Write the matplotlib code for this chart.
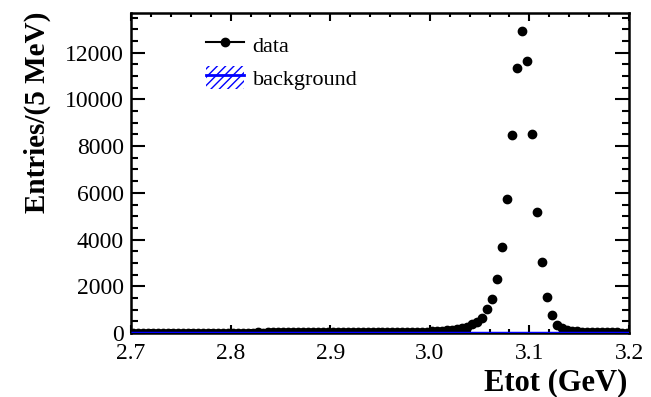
import numpy as np
import matplotlib
matplotlib.use("Agg")
import matplotlib.pyplot as plt
from matplotlib.lines import Line2D
from matplotlib.patches import Patch
from matplotlib.ticker import MultipleLocator

plt.rcParams["font.family"] = ["Liberation Serif", "DejaVu Serif"]
plt.rcParams["hatch.linewidth"] = 1.0

# 5 MeV bins, 2.7 - 3.2 GeV
bin_lo = 2.7
bin_hi = 3.2
n_bins = 100

data_counts = [
    12, 14, 11, 15, 13, 14, 12, 16, 14, 15,
    15, 17, 14, 18, 16, 17, 19, 17, 18, 20,
    18, 20, 19, 21, 20, 22, 21, 23, 22, 24,
    23, 25, 24, 26, 25, 27, 26, 28, 27, 29,
    29, 31, 30, 33, 32, 35, 34, 37, 36, 39,
    40, 44, 43, 48, 47, 52, 51, 57, 56, 62,
    70, 80, 92, 108, 128, 155,
    200, 275, 370, 480,
    654, 1013, 1440, 2321, 3662, 5726, 8462, 11338,
    12936, 11637, 8504, 5171, 3021, 1551, 769, 342,
    210, 140, 100, 75, 60, 50, 42, 36, 32, 28, 25, 22, 20, 18,
]

# background estimate, 50 MeV steps
bkg_edges = [2.70, 2.75, 2.80, 2.85, 2.90, 2.95, 3.00, 3.05, 3.10, 3.15, 3.20]
bkg_counts = [8, 9, 10, 11, 12, 13, 15, 18, 14, 10]

edges = np.linspace(bin_lo, bin_hi, n_bins + 1)
centers = 0.5 * (edges[:-1] + edges[1:])
counts = np.array(data_counts, dtype=float)

fig = plt.figure(figsize=(6.51, 3.97), dpi=100)
ax = fig.add_axes([131 / 651, 1 - 333 / 397, 498 / 651, 320 / 397])

ax.errorbar(centers, counts, yerr=np.sqrt(counts), fmt="o", color="black",
            ms=6, elinewidth=1.2, capsize=0, zorder=3)

bw = np.diff(bkg_edges)
ax.bar(np.array(bkg_edges[:-1]) + bw / 2, bkg_counts, width=bw, fill=False,
       hatch="////", edgecolor="blue", linewidth=0, zorder=4)
ax.stairs(bkg_counts, bkg_edges, color="blue", linewidth=2.5, zorder=5)

ax.set_xlim(bin_lo, bin_hi)
ax.set_ylim(0, 13700)

ax.xaxis.set_major_locator(MultipleLocator(0.1))
ax.xaxis.set_minor_locator(MultipleLocator(0.02))
ax.yaxis.set_major_locator(MultipleLocator(2000))
ax.yaxis.set_minor_locator(MultipleLocator(500))
ax.xaxis.set_major_formatter(plt.FormatStrFormatter("%.1f"))

ax.tick_params(axis="both", which="both", direction="in", top=True,
               right=True, width=1.5, labelsize=17)
ax.tick_params(axis="x", which="major", length=6, pad=7.5)
ax.tick_params(axis="x", which="minor", length=3)
ax.tick_params(axis="y", which="major", length=10, pad=5)
ax.tick_params(axis="y", which="minor", length=5)
for sp in ax.spines.values():
    sp.set_linewidth(1.8)

fig.text(627 / 651, 1 - 383 / 397, "Etot (GeV)", ha="right", va="center",
         fontsize=22, fontweight="bold")
fig.text(37 / 651, 1 - 12 / 397, "Entries/(5 MeV)", rotation=90,
         ha="center", va="top", fontsize=21, fontweight="bold")

h_data = Line2D([], [], color="black", marker="o", ms=6, lw=1.5)
h_bkg = (Patch(facecolor="none", edgecolor="blue", hatch="////", linewidth=0),
         Line2D([], [], color="blue", lw=2))
ax.legend([h_data, h_bkg], ["data", "background"], loc="upper left",
          bbox_to_anchor=(206 / 651, 1 - 33 / 397),
          bbox_transform=fig.transFigure, frameon=False, fontsize=16,
          handlelength=1.7, handleheight=1.2, handletextpad=0.4,
          labelspacing=0.4, borderpad=0, borderaxespad=0)

plt.savefig("out.png", dpi=100)
